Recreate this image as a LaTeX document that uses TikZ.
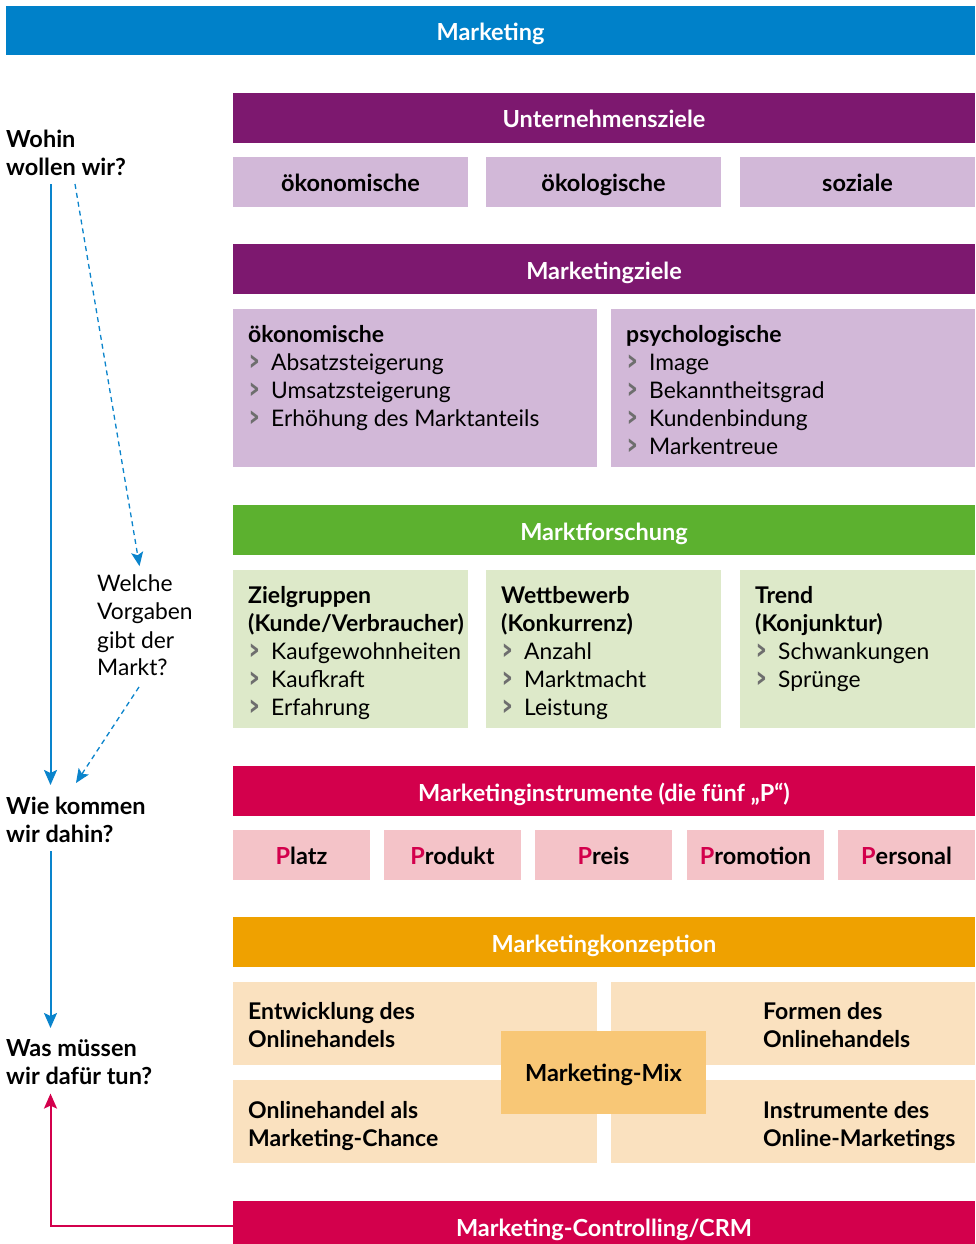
\documentclass[tikz,border=0pt]{standalone}
\usepackage{fontspec}
\setmainfont{Lato}
\newfontfamily\bulfont{DejaVu Sans}
\usetikzlibrary{arrows.meta,calc}
\definecolor{cBlue}{HTML}{0081C9}
\definecolor{cArrow}{HTML}{0A84CC}
\definecolor{cPurple}{HTML}{7D186F}
\definecolor{cLPurple}{HTML}{D2B8D8}
\definecolor{cGreen}{HTML}{5CB12F}
\definecolor{cLGreen}{HTML}{DDE9C9}
\definecolor{cCrimson}{HTML}{D3004C}
\definecolor{cPink}{HTML}{F4C3C8}
\definecolor{cOrange}{HTML}{EFA100}
\definecolor{cPeach}{HTML}{FAE1BF}
\definecolor{cMix}{HTML}{F8C776}
\definecolor{cBul}{HTML}{6E6E6E}
\newcommand{\bul}{\makebox[23pt][l]{\textcolor{cBul}{\bulfont\bfseries\fontsize{30}{28}\selectfont ›}}}
\newcommand{\redP}{\textcolor{cCrimson}{P}}
\newcommand{\hb}[1]{{\fontsize{23}{28}\selectfont\bfseries #1}}
\begin{document}
\begin{tikzpicture}[x=1pt,y=-1pt,
  every node/.style={inner sep=0pt},
  bar/.style={fill=#1, minimum width=742pt, minimum height=50pt, text=white,
    text height=20pt, text depth=0pt,
    font=\fontsize{23.5}{26}\selectfont\bfseries},
  box/.style={fill=#1, text height=18pt, text depth=0pt,
    font=\fontsize{23.5}{26}\selectfont\bfseries},
  pane/.style={fill=#1},
  txt/.style={anchor=north west, align=left, font=\fontsize{22.8}{28}\selectfont,
    execute at begin node={\rule{0pt}{20pt}}},
  btxt/.style={txt, font=\fontsize{23}{28}\selectfont\bfseries},
  qtxt/.style={txt, font=\fontsize{23.5}{28}\selectfont\bfseries},
  arr/.style={draw=cArrow, line width=2pt, -{Stealth[length=15pt,width=13pt,inset=3pt]}},
  darr/.style={draw=cArrow, line width=1.3pt, dash pattern=on 5pt off 4pt,
    -{Stealth[length=14pt,width=12pt,inset=3pt]}},
  rarr/.style={draw=cCrimson, line width=2pt, -{Stealth[length=15pt,width=13pt,inset=3pt]}}
]
\useasboundingbox (0,0) rectangle (975,1244);
\fill[white] (0,0) rectangle (975,1244);

% top bar
\node[bar=cBlue, minimum width=969pt, minimum height=49pt] (mk) at (490.5,30.5) {Marketing};

% Unternehmensziele
\node[bar=cPurple] (uz) at (604,118) {Unternehmensziele};
\node[box=cLPurple, minimum width=235pt, minimum height=50pt] (uz1) at (350.5,182) {ökonomische};
\node[box=cLPurple, minimum width=235pt, minimum height=50pt] (uz2) at (603.5,182) {ökologische};
\node[box=cLPurple, minimum width=235pt, minimum height=50pt] (uz3) at (857.5,182) {soziale};

% Marketingziele
\node[bar=cPurple] (mz) at (604,269) {Marketingziele};
\node[pane=cLPurple, minimum width=364pt, minimum height=158pt] (mz1) at (415,388) {};
\node[pane=cLPurple, minimum width=364pt, minimum height=158pt] (mz2) at (793,388) {};
\node[txt] (mz1t) at (248,325) {\hb{ökonomische}\\\bul Absatzsteigerung\\\bul Umsatzsteigerung\\\bul Erhöhung des Marktanteils};
\node[txt] (mz2t) at (626,325) {\hb{psychologische}\\\bul Image\\\bul Bekanntheitsgrad\\\bul Kundenbindung\\\bul Markentreue};

% Marktforschung
\node[bar=cGreen] (mf) at (604,530) {Marktforschung};
\node[pane=cLGreen, minimum width=235pt, minimum height=158pt] (mf1) at (350.5,649) {};
\node[pane=cLGreen, minimum width=235pt, minimum height=158pt] (mf2) at (603.5,649) {};
\node[pane=cLGreen, minimum width=235pt, minimum height=158pt] (mf3) at (857.5,649) {};
\node[txt] (mf1t) at (248,586) {\hb{Zielgruppen}\\\hb{(Kunde/Verbraucher)}\\\bul Kaufgewohnheiten\\\bul Kaufkraft\\\bul Erfahrung};
\node[txt] (mf2t) at (501,586) {\hb{Wettbewerb}\\\hb{(Konkurrenz)}\\\bul Anzahl\\\bul Marktmacht\\\bul Leistung};
\node[txt] (mf3t) at (755,586) {\hb{Trend}\\\hb{(Konjunktur)}\\\bul Schwankungen\\\bul Sprünge};

% Marketinginstrumente
\node[bar=cCrimson] (mi) at (604,791) {Marketinginstrumente (die fünf „P“)};
\node[box=cPink, minimum width=137pt, minimum height=50pt] (p1) at (301.5,855) {\redP latz};
\node[box=cPink, minimum width=137pt, minimum height=50pt] (p2) at (452.5,855) {\redP rodukt};
\node[box=cPink, minimum width=137pt, minimum height=50pt] (p3) at (603.5,855) {\redP reis};
\node[box=cPink, minimum width=137pt, minimum height=50pt] (p4) at (755.5,855) {\redP romotion};
\node[box=cPink, minimum width=137pt, minimum height=50pt] (p5) at (906.5,855) {\redP ersonal};

% Marketingkonzeption
\node[bar=cOrange] (mkz) at (604,942) {Marketingkonzeption};
\node[pane=cPeach, minimum width=364pt, minimum height=83pt] (k1) at (415,1023.5) {};
\node[pane=cPeach, minimum width=364pt, minimum height=83pt] (k2) at (793,1023.5) {};
\node[pane=cPeach, minimum width=364pt, minimum height=83pt] (k3) at (415,1121.5) {};
\node[pane=cPeach, minimum width=364pt, minimum height=83pt] (k4) at (793,1121.5) {};
\node[btxt] (k1t) at (248,1002) {Entwicklung des\\Onlinehandels};
\node[btxt] (k2t) at (763,1002) {Formen des\\Onlinehandels};
\node[btxt] (k3t) at (248,1101) {Onlinehandel als\\Marketing-Chance};
\node[btxt] (k4t) at (763,1101) {Instrumente des\\Online-Marketings};
\node[box=cMix, minimum width=205pt, minimum height=83pt] (mix) at (603.5,1072.5) {Marketing-Mix};

% Controlling
\node[bar=cCrimson] (ctrl) at (604,1226) {Marketing-Controlling/CRM};

% left questions
\node[qtxt] (q1) at (6,130) {Wohin\\wollen wir?};
\node[txt] (q2) at (97,575) {Welche\\Vorgaben\\gibt der\\Markt?};
\node[qtxt] (q3) at (6,797) {Wie kommen\\wir dahin?};
\node[qtxt] (q4) at (6,1039) {Was müssen\\wir dafür tun?};

\coordinate (a1s) at (50.5,184);
\coordinate (a2s) at (50.5,851);
\coordinate (d1s) at (75,184);
\coordinate (d2s) at (139,687);

\draw[arr, shorten >=12pt] (a1s) -- (q3.north west -| a1s);
\draw[darr, shorten >=9pt] (d1s) -- (q2.north west -| 141,0);
\draw[darr] (d2s) -- (76,783);
\draw[arr, shorten >=11pt] (a2s) -- (q4.north west -| a2s);
\draw[rarr, shorten >=9pt] (ctrl.west) -| (q4.south west -| a1s);
\end{tikzpicture}
\end{document}
